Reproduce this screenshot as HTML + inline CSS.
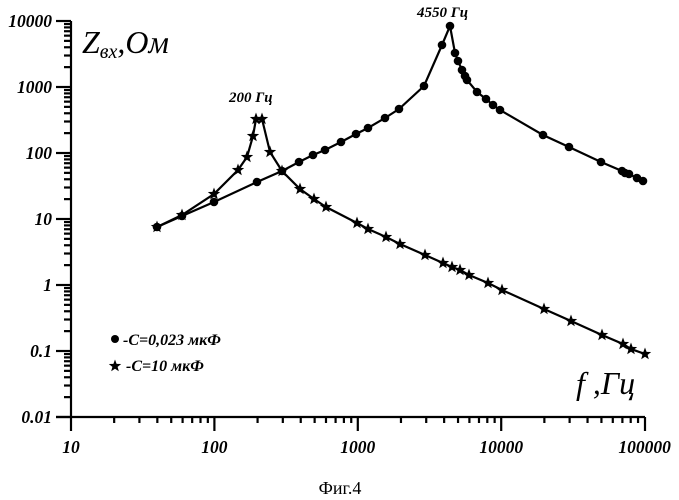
<!DOCTYPE html>
<html><head><meta charset="utf-8"><style>
html,body{margin:0;padding:0;background:#fff;}
svg{display:block;}
text{font-family:"Liberation Serif","DejaVu Serif",serif;font-style:italic;fill:#000;}
</style></head><body>
<svg width="679" height="500" viewBox="0 0 679 500" xmlns="http://www.w3.org/2000/svg">
<defs>
<polygon id="st" points="0,-6.5 1.6,-2.1 6.2,-2 2.6,0.9 3.8,5.3 0,2.7 -3.8,5.3 -2.6,0.9 -6.2,-2 -1.6,-2.1" fill="#000"/>
</defs>
<g stroke="#000" stroke-width="2.2" fill="none" id="axes"></g>
<g id="labels" font-weight="bold"></g>
<text x="82" y="53" font-size="32">Z<tspan font-size="20" dy="5">вх</tspan><tspan dy="-5">,Ом</tspan></text>
<text x="576" y="394" font-size="32">f ,Гц</text>
<text x="229" y="102" font-size="15" font-weight="bold">200 Гц</text>
<text x="417" y="17" font-size="15" font-weight="bold">4550 Гц</text>
<circle cx="115" cy="339" r="4" fill="#000"/>
<text x="123" y="345" font-size="16" font-weight="bold">-C=0,023 мкФ</text>
<use href="#st" x="115" y="366"/>
<text x="126" y="371" font-size="16" font-weight="bold">-C=10 мкФ</text>
<text x="340" y="494" font-size="18" text-anchor="middle" style="font-style:normal">Фиг.4</text>
<polyline id="c1" fill="none" stroke="#000" stroke-width="2.2"/>
<polyline id="c2" fill="none" stroke="#000" stroke-width="2.2"/>
<g id="m1"></g><g id="m2"></g>
<script>
var ns="http://www.w3.org/2000/svg";
function el(t,a,p){var e=document.createElementNS(ns,t);for(var k in a)e.setAttribute(k,a[k]);document.getElementById(p).appendChild(e);return e;}
var X0=71,DX=143.4,Y0=417,DY=66;
el('line',{x1:56,y1:Y0,x2:645,y2:Y0},'axes');
el('line',{x1:71,y1:Y0,x2:71,y2:Y0-6*DY},'axes');
for(var d=0;d<4;d++){for(var m=1;m<10;m++){var x=X0+(d+Math.log10(m))*DX;el('line',{x1:x,y1:Y0,x2:x,y2:m==1?431:423},'axes');}}
el('line',{x1:645,y1:Y0,x2:645,y2:431},'axes');
var xl=['10','100','1000','10000','100000'];
for(var i=0;i<5;i++){var t=el('text',{x:X0+i*DX,y:453,'font-size':17.5,'text-anchor':'middle'},'labels');t.textContent=xl[i];}
var yl=['0.01','0.1','1','10','100','1000','10000'];
for(var d=0;d<6;d++){for(var m=1;m<10;m++){var y=Y0-(d+Math.log10(m))*DY;el('line',{x1:m==1?56:64,y1:y,x2:71,y2:y},'axes');}}
el('line',{x1:56,y1:Y0-6*DY,x2:71,y2:Y0-6*DY},'axes');
for(var i=0;i<7;i++){var t=el('text',{x:52,y:Y0-i*DY+6,'font-size':17.5,'text-anchor':'end'},'labels');t.textContent=yl[i];}
var c=[[157,227],[182,216],[214,202],[257,182],[282,171],[299,162],[313,155],[325,150],[341,142],[356,134],[368,128],[385,118],[399,109],[424,86],[442,45],[450,26],[455,53],[458,61],[462,70],[465,76],[467,80],[477,92],[486,99],[493,105],[500,110],[543,135],[569,147],[601,162],[622,171],[625,173],[629,174],[637,178],[643,181]];
var s=[[157,227],[182,215],[214,194],[238,170],[247,157],[253,136],[256,119],[262,119],[270,152],[282,171],[300,189],[314,199],[326,207],[357,223],[368,229],[386,237],[400,244],[425,255],[443,263],[452,267],[460,270],[469,275],[488,283],[502,290],[544,309],[571,321],[602,335],[623,344],[631,349],[645,354]];
document.getElementById('c1').setAttribute('points',c.map(p=>p.join(',')).join(' '));
document.getElementById('c2').setAttribute('points',s.map(p=>p.join(',')).join(' '));
c.forEach(p=>el('circle',{cx:p[0],cy:p[1],r:4.3,fill:'#000'},'m1'));
s.forEach(p=>el('use',{href:'#st',x:p[0],y:p[1]},'m2'));
</script>
</svg>
</body></html>
